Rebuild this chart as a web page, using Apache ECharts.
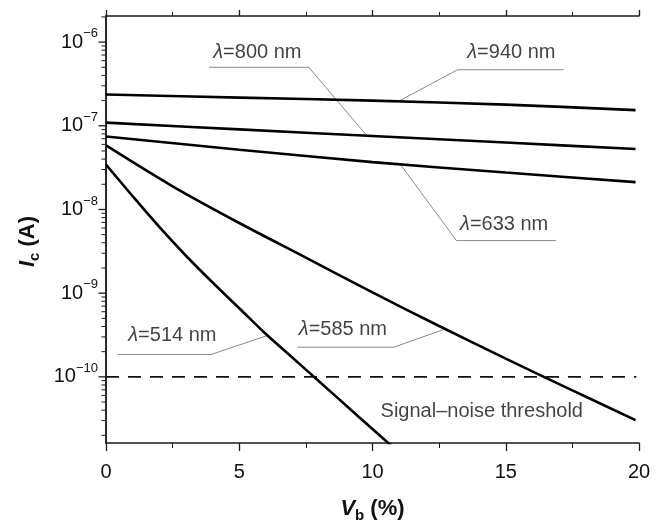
<!DOCTYPE html>
<html><head><meta charset="utf-8">
<script src="https://cdn.jsdelivr.net/npm/echarts@6/dist/echarts.min.js"></script>
<style>html,body{margin:0;padding:0;background:#fff}#c{width:662px;height:528px}</style>
</head><body><div id="c"></div>
<script>
// ---- data ----
const xFlat = [0, 5, 10, 15, 19.87];
const ic940 = [2.36e-7, 2.17e-7, 2.00e-7, 1.79e-7, 1.54e-7];
const ic800 = [1.09e-7, 9.06e-8, 7.55e-8, 6.30e-8, 5.27e-8];
const ic633 = [7.43e-8, 5.18e-8, 3.68e-8, 2.76e-8, 2.12e-8];
const x585 = [0, 2.5, 5, 7.5, 10, 12.5, 15, 17.5, 19.87];
const ic585 = [5.82e-8, 1.89e-8, 6.89e-9, 2.66e-9, 1.02e-9, 4.05e-10, 1.65e-10, 6.89e-11, 3.04e-11];
const x514 = [0, 1, 2, 3, 4, 5, 6, 7, 8, 9, 10, 11];
const ic514 = [3.44e-8, 1.44e-8, 6.18e-9, 2.80e-9, 1.34e-9, 6.61e-10, 3.25e-10, 1.69e-10, 8.80e-11, 4.57e-11, 2.38e-11, 1.24e-11];
const thresholdX = [0, 19.9];
const thresholdIc = 1e-10;
const xTicksMajor = [0, 5, 10, 15, 20];
const yMajorTicks = [1e-10, 1e-9, 1e-8, 1e-7, 1e-6];
const yMinorMantissas = [2, 3, 4, 5, 6, 7, 8, 9];
const yMinorDecades = [-11, -10, -9, -8, -7, -6];
const yMin = 1.62e-11, yMax = 2.05e-6;
// annotation labels: wavelength, text centre [x, Ic], leader polyline
const annWavelengths = ['800', '940', '633', '514', '585'];
const annTextPos = [[5.68, 7.53e-7], [15.21, 7.46e-7], [14.94, 6.70e-9], [2.49, 3.14e-10], [8.89, 3.66e-10]];
const annLeaders = [
  [[3.86, 5.0e-7], [7.61, 5.0e-7], [9.79, 7.6e-8]],
  [[17.17, 4.67e-7], [13.19, 4.67e-7], [10.99, 1.97e-7]],
  [[16.88, 4.25e-9], [13.15, 4.25e-9], [11.05, 3.44e-8]],
  [[0.45, 1.85e-10], [3.94, 1.85e-10], [6.04, 3.1e-10]],
  [[7.18, 2.26e-10], [10.80, 2.26e-10], [12.75, 3.75e-10]]
];
const thresholdText = 'Signal\u2013noise threshold';
const thresholdTextPos = [14.1, 3.88e-11];

// ---- build ----
const FF = '"Liberation Sans", Arial, Helvetica, sans-serif';
const AX = '#1a1a1a';
const zip = (xs, ys) => xs.map((x, i) => [x, ys[i]]);
const minorY = [];
yMinorDecades.forEach(d => yMinorMantissas.forEach(m => {
  const v = m * Math.pow(10, d);
  if (v > yMin && v < yMax) minorY.push(v);
}));
const tickItem = (len, w) => (params, api) => {
  const p = api.coord([0, api.value(1)]);
  return {type: 'line', shape: {x1: p[0] - len, y1: p[1], x2: p[0], y2: p[1]},
          style: {stroke: AX, lineWidth: w}};
};
const curve = (name, data) => ({
  name, type: 'line', data, symbol: 'none', smooth: 0.3, clip: true,
  lineStyle: {color: '#000', width: 2.6}, z: 5, animation: false
});

const series = [
  curve('940', zip(xFlat, ic940)),
  curve('800', zip(xFlat, ic800)),
  curve('633', zip(xFlat, ic633)),
  curve('585', zip(x585, ic585)),
  curve('514', zip(x514, ic514)),
  {name: 'threshold', type: 'line', symbol: 'none', animation: false,
   data: thresholdX.map(x => [x, thresholdIc]),
   lineStyle: {color: '#111', width: 1.6, type: [13, 9]}},
  {type: 'custom', renderItem: tickItem(4.5, 1), data: minorY.map(v => [0, v]), clip: false, silent: true, animation: false, z: 10},
  {type: 'custom', renderItem: tickItem(7.5, 1.3), data: yMajorTicks.map(v => [0, v]), clip: false, silent: true, animation: false, z: 10}
];
annLeaders.forEach(pts => series.push({
  type: 'line', symbol: 'none', data: pts, animation: false, silent: true,
  lineStyle: {color: '#8a8a8a', width: 1}, z: 3
}));
series.push({
  type: 'scatter', symbolSize: 1, itemStyle: {color: 'rgba(0,0,0,0)'}, animation: false, silent: true,
  data: annTextPos.map((p, i) => ({value: p, name: annWavelengths[i]})).concat([{value: thresholdTextPos, name: 'thr'}]),
  label: {show: true, position: 'inside',
    formatter: p => p.name === 'thr' ? '{t|' + thresholdText + '}' : '{l|\u03bb}{t|=' + p.name + ' nm}',
    rich: {
      l: {fontFamily: FF, fontSize: 20, fontStyle: 'italic', color: '#111'},
      t: {fontFamily: FF, fontSize: 20, color: '#111'}
    }}
});

const chart = echarts.init(document.getElementById('c'), null, {renderer: 'canvas'});
chart.setOption({
  animation: false,
  backgroundColor: '#fff',
  grid: {left: 106, top: 16, right: 23, bottom: 82, containLabel: false},
  xAxis: [{
    type: 'value', min: 0, max: 20, interval: 5, position: 'bottom',
    name: '{i|V}{s|b}{n| (%)}', nameLocation: 'middle', nameGap: 52,
    nameTextStyle: {rich: {
      i: {fontFamily: FF, fontSize: 22, fontWeight: 'bold', fontStyle: 'italic', color: '#111', lineHeight: 28, verticalAlign: 'middle'},
      s: {fontFamily: FF, fontSize: 15, fontWeight: 'bold', color: '#111', lineHeight: 14, verticalAlign: 'bottom'},
      n: {fontFamily: FF, fontSize: 22, fontWeight: 'bold', color: '#111', lineHeight: 28, verticalAlign: 'middle'}
    }},
    axisLine: {lineStyle: {color: AX, width: 1.5}},
    axisTick: {inside: false, length: 8, lineStyle: {color: AX, width: 1.3}},
    minorTick: {show: true, splitNumber: 2, length: 5, lineStyle: {color: AX, width: 1}},
    axisLabel: {fontFamily: FF, fontSize: 20, color: '#111', margin: 19},
    splitLine: {show: false}
  }, {
    type: 'value', min: 0, max: 20, interval: 5, position: 'top',
    axisLine: {lineStyle: {color: AX, width: 1.5}},
    axisTick: {inside: false, length: 6, lineStyle: {color: AX, width: 1.3}},
    minorTick: {show: true, splitNumber: 2, length: 4, lineStyle: {color: AX, width: 1}},
    axisLabel: {show: false}, splitLine: {show: false}
  }],
  yAxis: [{
    type: 'log', logBase: 10, min: yMin, max: yMax, position: 'left',
    name: '{i|I}{s|c}{n| (A)}', nameLocation: 'middle', nameGap: 64, nameRotate: 90,
    nameTextStyle: {padding: [0, 24, 0, 0], rich: {
      i: {fontFamily: FF, fontSize: 22, fontWeight: 'bold', fontStyle: 'italic', color: '#111', lineHeight: 28, verticalAlign: 'middle'},
      s: {fontFamily: FF, fontSize: 15, fontWeight: 'bold', color: '#111', lineHeight: 14, verticalAlign: 'bottom'},
      n: {fontFamily: FF, fontSize: 22, fontWeight: 'bold', color: '#111', lineHeight: 28, verticalAlign: 'middle'}
    }},
    axisLine: {show: true, lineStyle: {color: AX, width: 1.5}},
    axisTick: {show: false},
    minorTick: {show: false},
    splitLine: {show: false},
    axisLabel: {
      margin: 8, showMinLabel: false, showMaxLabel: false,
      formatter: v => {
        const e = Math.round(Math.log10(v));
        return '{b|10}{s|' + (e < 0 ? '\u2212' : '') + Math.abs(e) + '}';
      },
      rich: {
        b: {fontFamily: FF, fontSize: 20, color: '#111', lineHeight: 30, verticalAlign: 'middle'},
        s: {fontFamily: FF, fontSize: 13, color: '#111', lineHeight: 13, verticalAlign: 'top'}
      }
    }
  }, {
    type: 'value', min: 0, max: 1, position: 'right',
    axisLine: {show: true, lineStyle: {color: AX, width: 1.5}},
    axisTick: {show: false}, axisLabel: {show: false}, splitLine: {show: false}
  }],
  series
});
</script></body></html>
